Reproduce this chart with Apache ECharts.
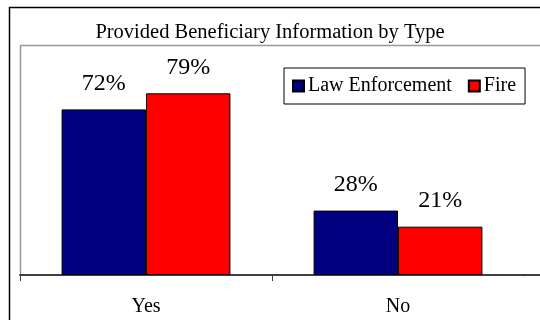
<!DOCTYPE html>
<html>
<head>
<meta charset="utf-8">
<script src="https://cdn.jsdelivr.net/npm/echarts@6/dist/echarts.min.js"></script>
<style>html,body{margin:0;padding:0;background:#fff}#c{width:540px;height:320px}</style>
</head>
<body>
<div id="c"></div>
<script>
const categories = ['Yes', 'No'];
const lawEnforcement = [72, 28];
const fire = [79, 21];
const seriesNames = ['Law Enforcement', 'Fire'];
const titleText = 'Provided Beneficiary Information by Type';

const FONT = '"Liberation Serif", "Times New Roman", serif';
const chart = echarts.init(document.getElementById('c'), null, {renderer: 'canvas'});
const labelCfg = {
  show: true, position: 'top', distance: 14,
  formatter: p => p.value + '%',
  fontFamily: FONT, fontSize: 24, color: '#000'
};
chart.setOption({
  animation: false,
  backgroundColor: '#fff',
  title: {
    text: titleText, left: 'center', top: 17,
    textStyle: {fontFamily: FONT, fontSize: 20.5, fontWeight: 'normal', color: '#000'}
  },
  legend: {
    left: 284, top: 68, orient: 'horizontal',
    padding: [8, 9, 8, 8], itemGap: 16,
    itemWidth: 11, itemHeight: 11,
    borderColor: '#000', borderWidth: 1, backgroundColor: '#fff',
    textStyle: {fontFamily: FONT, fontSize: 20, color: '#000', padding: [0, 0, 0, -1]},
    icon: 'rect',
    data: seriesNames
  },
  grid: {left: 20, right: 16, top: 45, bottom: 45, containLabel: false},
  xAxis: {
    type: 'category', data: categories,
    axisLine: {show: true, lineStyle: {color: '#404040', width: 2}},
    axisTick: {show: true, length: 6, lineStyle: {color: '#404040', width: 1}},
    axisLabel: {fontFamily: FONT, fontSize: 20, color: '#000', margin: 22}
  },
  yAxis: {
    type: 'value', min: 0, max: 100, show: false,
    splitLine: {show: false}
  },
  graphic: [
    {type: 'rect', silent: true, z: -1, shape: {x: 9.5, y: 7.5, width: 560, height: 340},
     style: {fill: 'none', stroke: '#000', lineWidth: 1.5}},
    {type: 'polyline', silent: true, z: -1, shape: {points: [[20.5, 275], [20.5, 45.5], [541, 45.5]]},
     style: {fill: 'none', stroke: '#999', lineWidth: 1.5}},
    {type: 'rect', silent: true, zlevel: 1, z: 100, shape: {x: 516, y: 276.2, width: 16, height: 10},
     style: {fill: '#fff', stroke: 'none'}},
    {type: 'line', silent: true, zlevel: 1, z: 101, shape: {x1: 520, y1: 275, x2: 541, y2: 275},
     style: {stroke: '#404040', lineWidth: 2}}
  ],
  series: [
    {name: seriesNames[0], type: 'bar', data: lawEnforcement, barGap: '0%', barCategoryGap: '33%',
     itemStyle: {color: '#000080', borderColor: '#000', borderWidth: 1}, label: labelCfg},
    {name: seriesNames[1], type: 'bar', data: fire,
     itemStyle: {color: '#FF0000', borderColor: '#000', borderWidth: 1}, label: labelCfg}
  ]
});
</script>
</body>
</html>
